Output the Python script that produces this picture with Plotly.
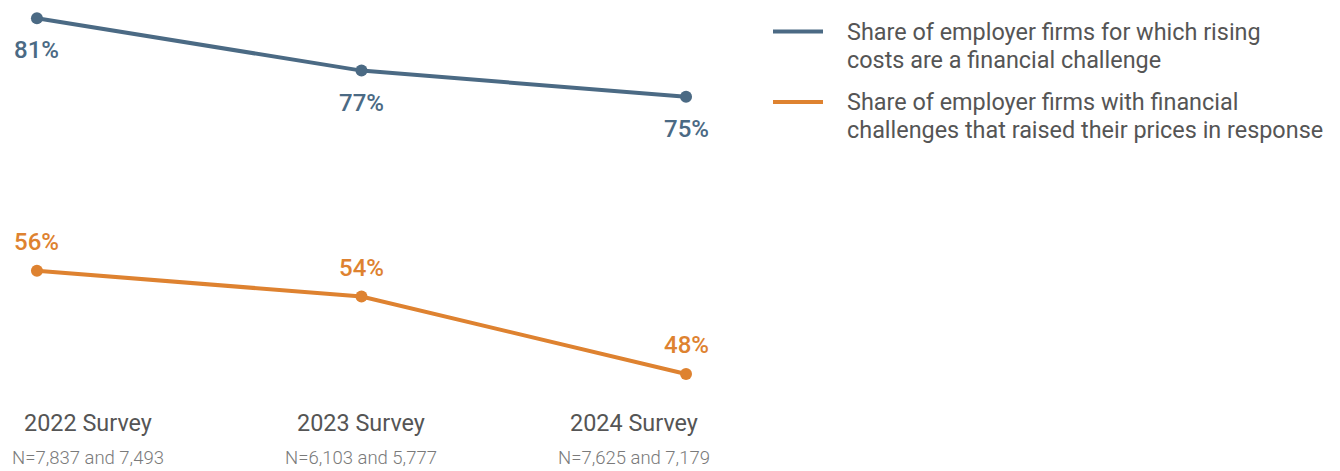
import plotly.graph_objects as go

# ---- data ----
surveys = ["2022 Survey", "2023 Survey", "2024 Survey"]
sample_sizes = ["N=7,837 and 7,493", "N=6,103 and 5,777", "N=7,625 and 7,179"]
rising_costs = [81, 77, 75]
raised_prices = [56, 54, 48]
series_names = [
    "Share of employer firms for which rising<br>costs are a financial challenge",
    "Share of employer firms with financial<br>challenges that raised their prices in response",
]

BLUE = "#4B6A84"
ORANGE = "#DE8230"
TEXT = "#555555"
NTEXT = "#7A7A7A"
FONT = "Roboto, 'Noto Sans', sans-serif"

# page body has an 8px margin, so the figure is sized to fit the window
OFF = 8
W, H = 1340 - OFF, 471 - OFF
PL, PR = 10 - OFF, 712 - OFF          # plot-area left/right in figure px
PW = PR - PL

def px_x(px):  # window px -> paper x (plot area relative)
    return (px - OFF - PL) / PW

def px_y(py):  # window px -> paper y
    return 1 - (py - OFF) / H

xs = list(range(len(surveys)))

fig = go.Figure()
fig.add_trace(go.Scatter(
    x=xs, y=rising_costs, mode="lines+markers", name=series_names[0],
    line=dict(color=BLUE, width=4), marker=dict(size=12, color=BLUE),
    xaxis="x", yaxis="y", showlegend=False, hoverinfo="skip",
))
fig.add_trace(go.Scatter(
    x=xs, y=raised_prices, mode="lines+markers", name=series_names[1],
    line=dict(color=ORANGE, width=4), marker=dict(size=12, color=ORANGE),
    xaxis="x", yaxis="y2", showlegend=False, hoverinfo="skip",
))

annotations = []
# value labels
for x, v in zip(xs, rising_costs):
    annotations.append(dict(x=x, y=v, xref="x", yref="y", text=f"{v}%",
                            showarrow=False, yanchor="middle", yshift=-32,
                            font=dict(family=FONT, size=24, color=BLUE, weight=500)))
for x, v in zip(xs, raised_prices):
    annotations.append(dict(x=x, y=v, xref="x", yref="y2", text=f"{v}%",
                            showarrow=False, yanchor="middle", yshift=29,
                            font=dict(family=FONT, size=24, color=ORANGE, weight=500)))

# category labels (clamped inside plot area at the ends)
n = len(surveys)
for i, (s, nn) in enumerate(zip(surveys, sample_sizes)):
    txt = (f"<span style='font-size:23.4px'>{s}</span><br>"
           f"<span style='font-size:18.5px;color:{NTEXT};font-weight:300'>{nn}</span>")
    if i == 0:
        pos = dict(xref="x domain", x=0, xanchor="left")
    elif i == n - 1:
        pos = dict(xref="x domain", x=1, xanchor="right")
    else:
        pos = dict(xref="x", x=xs[i], xanchor="center")
    annotations.append(dict(**pos, y=px_y(439), yref="paper", yanchor="middle",
                            text=txt, showarrow=False, align="center",
                            font=dict(family=FONT, size=25.4, color=TEXT)))

# manual legend
shapes = []
colors = [BLUE, ORANGE]
legend_top = [31.5, 102]
for name, c, ytop in zip(series_names, colors, legend_top):
    shapes.append(dict(type="line", xref="paper", yref="paper",
                       x0=px_x(773), x1=px_x(823), y0=px_y(ytop), y1=px_y(ytop),
                       line=dict(color=c, width=4)))
    for j, line in enumerate(name.split("<br>")):
        annotations.append(dict(xref="paper", yref="paper", x=px_x(845),
                                y=px_y(ytop + 28 * j), xanchor="left", yanchor="middle",
                                text=line, showarrow=False, align="left",
                                font=dict(family=FONT, size=23.4, color=TEXT)))

fig.update_layout(
    width=W, height=H,
    margin=dict(l=PL, r=W - PR, t=0, b=0),
    paper_bgcolor="white", plot_bgcolor="white",
    xaxis=dict(range=[-0.083, 2.08], visible=False, fixedrange=True),
    yaxis=dict(range=[70, 81.79], domain=[0.6672, 1], visible=False, fixedrange=True),
    yaxis2=dict(range=[44, 60], domain=[0.0981, 0.5441], visible=False,
                anchor="x", fixedrange=True),
    annotations=annotations, shapes=shapes,
    showlegend=False,
)

fig.write_html("out.html")
